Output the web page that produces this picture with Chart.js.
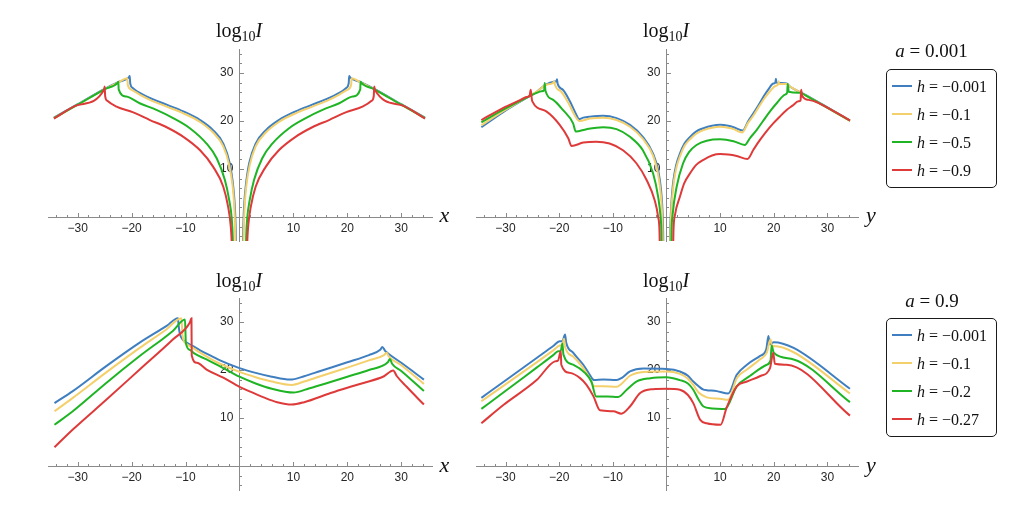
<!doctype html>
<head>
<meta charset="utf-8">
<style>
* { box-sizing: border-box; margin: 0; padding: 0; }
body { width: 1030px; height: 508px; background: #fff; position: relative; overflow: hidden; font-family: 'Liberation Serif', serif; color: #111; }
.panel { position: absolute; }
.title, .var, .atitle, .row { position: absolute; line-height: 1; white-space: nowrap; }
.title { font-size: 20px; width: 100px; text-align: center; }
.title sub { font-size: 0.7em; vertical-align: -0.3em; line-height: 0; }
.var { font-size: 22px; font-style: italic; }
.atitle { font-size: 19px; width: 120px; text-align: center; }
.legend { position: absolute; left: 886px; width: 111px; height: 119px; border: 1.3px solid #1a1a1a; border-radius: 5px; }
.row { left: 30px; font-size: 16px; }
.swatch { position: absolute; left: 4.5px; width: 20px; height: 2px; }
</style>
</head>
<div class="panel" id="p1"><canvas></canvas></div>
<div class="panel" id="p2"><canvas></canvas></div>
<div class="panel" id="p3"><canvas></canvas></div>
<div class="panel" id="p4"><canvas></canvas></div>

<div class="title" style="left:189px;top:20px">log<sub>10</sub><i>I</i></div>
<div class="title" style="left:616px;top:20px">log<sub>10</sub><i>I</i></div>
<div class="title" style="left:189px;top:270px">log<sub>10</sub><i>I</i></div>
<div class="title" style="left:616px;top:270px">log<sub>10</sub><i>I</i></div>
<div class="var" style="left:439.5px;top:204.3px">x</div>
<div class="var" style="left:866px;top:204.3px">y</div>
<div class="var" style="left:439.5px;top:453.6px">x</div>
<div class="var" style="left:866px;top:453.6px">y</div>

<div class="atitle" id="a1" style="left:871.5px;top:40.6px"></div>
<div class="legend" id="l1" style="top:69px"></div>
<div class="atitle" id="a2" style="left:872px;top:291px"></div>
<div class="legend" id="l2" style="top:318px"></div>

<script src="https://cdn.jsdelivr.net/npm/chart.js"></script>
<script>

const colors = ['#3f7fc0', '#f3d06b', '#1fb424', '#de3a3a']
const hTop = ['−0.001', '−0.1', '−0.5', '−0.9']
const hBottom = ['−0.001', '−0.1', '−0.2', '−0.27']
const aValues = ['0.001', '0.9']
const xTickLabels = [-30, -20, -10, 10, 20, 30]
const yTickLabels = [10, 20, 30]

// top left, a = 0.001, against x
const tlBlue = [[-34.4,20.7],[-30,23.5],[-25,26.7],[-22.5,28.1],[-20.5,29.1],[-20.35,29.4],[-20.25,27.8],[-19.8,26.9],[-19,26.2],[-16.6,24.8],[-13.5,23.4],[-10.4,22.0],[-7.3,20.2],[-4.9,18.1],[-3.0,15.3],[-1.8,11.2],[-1.15,6.3],[-0.9,3],[-0.77,0],[-0.65,-5],[-0.6,-9],
  [0,null],
  [0.6,-9],[0.65,-5],[0.77,0],[0.9,3],[1.15,6.3],[1.8,11.2],[3.0,15.3],[4.9,18.1],[7.3,20.2],[10.4,22.0],[13.5,23.4],[16.6,24.8],[19,26.2],[19.8,26.9],[20.25,27.8],[20.35,29.4],[20.5,29.1],[22.5,28.1],[25,26.7],[30,23.5],[34.4,20.7]]
const tlYellow = [[-34.4,20.6],[-30,23.4],[-25,26.6],[-22.5,28.0],[-20.8,28.9],[-20.7,27.5],[-20,26.5],[-18.5,25.5],[-16.6,24.4],[-13.5,23.0],[-10.4,21.6],[-7.3,19.8],[-4.9,17.6],[-3.0,14.7],[-1.9,10.8],[-1.25,6.3],[-1.0,3],[-0.87,0],[-0.75,-5],[-0.7,-9],
  [0,null],
  [0.7,-9],[0.75,-5],[0.87,0],[1.0,3],[1.25,6.3],[1.9,10.8],[3.0,14.7],[4.9,17.6],[7.3,19.8],[10.4,21.6],[13.5,23.0],[16.6,24.4],[18.5,25.5],[20,26.5],[20.7,27.5],[20.8,28.9],[22.5,28.0],[25,26.6],[30,23.4],[34.4,20.6]]
const tlGreen = [[-34.4,20.6],[-30,23.4],[-25,26.6],[-22.55,28.0],[-22.45,28.2],[-22.4,26.6],[-21,25.1],[-18.5,23.7],[-15.4,22.3],[-12.3,20.6],[-9.2,18.5],[-6.1,15.3],[-4.2,12.2],[-2.7,7.7],[-1.9,3.5],[-1.46,0],[-1.25,-4],[-1.15,-9],
  [0,null],
  [1.15,-9],[1.25,-4],[1.46,0],[1.9,3.5],[2.7,7.7],[4.2,12.2],[6.1,15.3],[9.2,18.5],[12.3,20.6],[15.4,22.3],[18.5,23.7],[21,25.1],[22.4,26.6],[22.45,28.2],[22.55,28.0],[25,26.6],[30,23.4],[34.4,20.6]]
const tlRed = [[-34.4,20.5],[-30,23.3],[-25.1,26.5],[-25.0,27.2],[-24.9,25.2],[-24.5,24.2],[-22.8,23.0],[-19.7,21.8],[-16.6,20.2],[-13.5,18.7],[-10.4,16.7],[-7.3,13.9],[-4.9,10.5],[-3.0,6.3],[-2.1,2.1],[-1.6,-2.1],[-1.45,-5],[-1.35,-9],
  [0,null],
  [1.35,-9],[1.45,-5],[1.6,-2.1],[2.1,2.1],[3.0,6.3],[4.9,10.5],[7.3,13.9],[10.4,16.7],[13.5,18.7],[16.6,20.2],[19.7,21.8],[22.8,23.0],[24.5,24.2],[24.9,25.2],[25.0,27.2],[25.1,26.5],[30,23.3],[34.4,20.5]]

// top right, a = 0.001, against y
const trBlue = [[-34.5,18.7],[-30.5,21.8],[-26.7,24.4],[-24.3,26.0],[-22.5,27.6],[-21,28.2],[-20.5,28.3],[-20.4,28.7],[-20.3,27.8],[-19.3,26.5],[-18.0,24.1],[-16.8,21.3],[-16.3,20.4],[-15.5,20.7],[-14.3,20.9],[-11.8,21.1],[-9.3,20.6],[-6.8,19.2],[-4.4,16.7],[-2.5,13.2],[-1.5,9.5],[-1.0,5.5],[-0.75,1.5],[-0.62,-3],[-0.55,-9],
  [0,null],
  [0.62,-9],[0.7,-3],[0.85,1.5],[1.05,5],[1.3,7.7],[1.8,10.8],[2.5,13.2],[3.3,15.2],[4.4,16.7],[5.5,17.8],[6.9,18.5],[8.5,19.0],[10.0,19.2],[11.5,19.0],[12.5,18.7],[14.2,18.0],[15.2,19.9],[16.2,21.6],[17.2,23.4],[18.1,25.1],[19.0,26.6],[19.9,27.8],[20.3,28.0],[20.4,28.8],[20.5,28.0],[21.5,27.9],[22.4,27.8],[23.0,27.2],[26,25.4],[29.3,23.3],[34.2,20.1]]
const trYellow = [[-34.5,19.1],[-30.5,22.0],[-26.7,24.5],[-24.3,26.0],[-22.5,27.5],[-21.2,27.9],[-20.9,28.3],[-20.8,27.6],[-19.6,26.1],[-18.3,23.8],[-17.0,21.0],[-16.2,20.0],[-14.3,20.5],[-11.8,20.7],[-9.3,20.2],[-6.8,18.8],[-4.4,16.3],[-2.5,12.8],[-1.6,9.2],[-1.1,5.2],[-0.85,1.5],[-0.72,-3],[-0.65,-9],
  [0,null],
  [0.65,-9],[0.75,-3],[0.9,1.5],[1.15,5],[1.4,7.5],[1.9,10.5],[2.6,12.9],[3.4,14.9],[4.5,16.3],[5.6,17.4],[6.9,18.1],[8.5,18.6],[10.0,18.8],[11.5,18.6],[12.5,18.3],[14.1,17.6],[15.2,19.6],[16.3,21.3],[17.3,23.1],[18.3,24.8],[19.3,26.2],[20.3,27.3],[20.8,27.6],[20.9,28.3],[21.0,27.7],[22.4,27.7],[23.0,27.2],[26,25.3],[29.3,23.2],[34.2,20.0]]
const trGreen = [[-34.5,19.7],[-30.5,22.3],[-26.7,24.5],[-24.3,25.8],[-23.3,26.2],[-22.8,26.4],[-22.7,27.9],[-22.55,26.3],[-21.1,24.4],[-19.3,22.3],[-17.4,19.5],[-16.9,17.8],[-14.9,18.3],[-11.8,18.7],[-9.3,18.3],[-6.8,16.7],[-4.4,13.9],[-2.5,9.1],[-1.55,4.2],[-1.1,0],[-0.95,-3],[-0.87,-9],
  [0,null],
  [0.87,-9],[0.95,-3],[1.15,0.5],[1.9,6.3],[3.1,11.2],[4.2,13.5],[5.6,15.0],[7.5,15.9],[10.0,16.2],[12.5,15.8],[14.6,15.0],[15.6,16.5],[16.8,18.1],[18.0,20.0],[19.3,22.0],[20.7,23.9],[22.1,25.5],[22.5,25.9],[22.6,27.7],[22.8,26.1],[24.9,25.9],[26,25.3],[29.3,23.2],[34.2,20.1]]
const trRed = [[-34.5,20.2],[-30.5,22.7],[-27.4,24.3],[-26.1,25.0],[-25.5,25.3],[-25.3,26.5],[-25.1,24.6],[-25.0,24.1],[-22.4,22.0],[-19.9,19.2],[-18.3,16.4],[-17.7,14.8],[-15.5,15.5],[-13.1,15.7],[-10.6,15.3],[-8.1,13.9],[-5.6,11.2],[-3.7,7.7],[-2.2,3.5],[-1.55,0],[-1.3,-3],[-1.2,-9],
  [0,null],
  [1.2,-9],[1.3,-3],[1.6,0.5],[2.5,4.2],[3.3,7.0],[4.4,9.1],[5.5,10.8],[6.9,11.9],[8.5,12.8],[10.0,13.1],[11.5,13.0],[13.1,12.7],[15.1,12.1],[16.2,14.0],[17.4,16.0],[18.6,17.8],[19.9,19.5],[21.1,20.9],[22.4,22.3],[23.5,23.2],[24.6,24.1],[25.0,24.3],[25.1,26.5],[25.3,25.2],[26.5,24.4],[27.8,24.0],[29.3,23.2],[34.2,20.1]]

// bottom left, a = 0.9, against x
const blBlue = [[-34.3,13.1],[-30.9,15.6],[-24.7,20.8],[-18.5,25.7],[-13.5,29.2],[-11.4,30.8],[-11.3,29.5],[-11.1,27.8],[-10.5,26.3],[-9.8,25.7],[-8.5,24.9],[-7.3,24.1],[-5,22.8],[-3.6,22.0],[0,20.4],[3,19.4],[6,18.6],[9.4,18.0],[12,18.7],[15,19.8],[20,21.6],[24,23.1],[26.1,24.2],[26.5,24.8],[27.0,24.0],[27.5,23.5],[30,21.5],[34.2,18.0]]
const blYellow = [[-34.3,11.4],[-30.9,14.2],[-24.7,19.5],[-18.5,24.6],[-13.5,28.5],[-10.8,30.8],[-10.65,29.0],[-10.55,27.1],[-9.8,25.4],[-8.5,24.5],[-7.3,23.6],[-5,22.1],[-3.6,21.3],[0,19.6],[3,18.5],[6,17.6],[9.7,16.9],[12,17.6],[15,18.7],[20,20.5],[24,22.0],[26.8,23.1],[27.3,23.6],[27.7,22.8],[30,21.0],[34.2,17.1]]
const blGreen = [[-34.3,8.6],[-30.9,11.4],[-24.7,17.3],[-18.5,22.9],[-12.3,28.2],[-10.1,30.5],[-10.0,27.5],[-9.95,25.7],[-9.2,24.2],[-8.3,23.4],[-6.1,22.2],[-3.0,20.4],[0,18.6],[3,17.2],[6,16.1],[10.0,15.3],[13,16.2],[16,17.2],[20,18.6],[24,20.0],[27.5,21.6],[27.9,22.3],[28.3,21.3],[30,19.8],[34.2,15.6]]
const blRed = [[-34.3,3.9],[-30.9,7.6],[-24.7,13.8],[-18.5,20.1],[-12.3,26.4],[-9.2,29.9],[-8.9,30.8],[-8.85,23.0],[-7.9,21.5],[-6.1,20.1],[-3.0,18.4],[0,16.5],[2,15.5],[4.5,14.3],[7,13.3],[9.7,12.8],[12,13.3],[16.9,15.2],[20,16.3],[23.0,17.3],[26.8,18.7],[28.5,19.9],[29.2,18.7],[31,16.5],[34.2,12.8]]

// bottom right, a = 0.9, against y
const brBlue = [[-34.5,14.2],[-30.4,17.5],[-24.2,22.5],[-21.1,25.0],[-19.9,26.0],[-19.4,26.0],[-18.9,27.4],[-18.7,25.8],[-17.4,23.6],[-15.5,21.1],[-14.3,19.0],[-13.5,17.9],[-11.8,18.0],[-9.3,17.9],[-8.4,18.3],[-6.8,19.7],[-4.3,20.3],[0,20.2],[2.5,19.7],[4,18.8],[5.0,17.6],[6,16.6],[6.9,15.9],[7.5,15.8],[9.4,15.6],[11.5,15.1],[13.1,19.0],[15.0,21.1],[17.4,22.9],[18.6,24.3],[19.0,27.1],[19.3,25.3],[20.0,25.8],[23.7,24.6],[34.2,16.1]]
const brYellow = [[-34.5,13.5],[-30.4,16.7],[-24.2,21.6],[-21.1,24.1],[-19.9,25.1],[-19.4,25.3],[-19.1,26.5],[-18.9,24.8],[-17.4,22.8],[-15.5,20.4],[-14.3,18.3],[-13.5,16.6],[-11.8,16.6],[-9.3,16.5],[-8.4,17.1],[-6.8,18.8],[-4.3,19.6],[0,19.7],[2.5,19.2],[4,18.2],[5.0,16.9],[6,15.3],[7.5,14.3],[10.0,14.0],[11.5,13.8],[13.1,18.3],[15,20.1],[17.4,22.2],[18.7,23.6],[19.4,26.4],[19.7,24.8],[20.0,25.0],[23.7,23.7],[34.2,15.1]]
const brGreen = [[-34.5,11.9],[-30.4,15.3],[-24.2,20.5],[-21.1,23.1],[-20.2,23.9],[-19.7,24.0],[-19.4,25.5],[-19.2,23.2],[-17.4,21.1],[-15.2,19.4],[-14.0,17.6],[-13.1,14.5],[-11,14.5],[-9.0,14.4],[-7.4,15.9],[-5.6,17.6],[-3,18.3],[0,18.5],[2.5,17.9],[4,17.2],[5.0,15.9],[5.9,14.0],[6.9,12.4],[8.5,12.0],[10.3,11.9],[10.9,11.9],[13.1,16.6],[15.6,18.8],[18.7,21.1],[19.4,22.0],[19.6,25.1],[20.0,23.6],[23.7,22.2],[34.2,13.3]]
const brRed = [[-34.5,8.9],[-30.4,12.7],[-24.2,17.9],[-20.8,21.8],[-20.2,22.0],[-19.7,23.9],[-19.6,21.1],[-18.0,19.4],[-16.1,18.3],[-14.9,16.9],[-13.6,14.5],[-12.4,11.6],[-9.9,11.4],[-8.4,10.9],[-6.8,12.4],[-4.9,15.2],[-2.5,16.0],[0,16.1],[2.5,15.9],[4,14.8],[5.0,13.1],[6.3,9.6],[7.5,8.9],[10.1,8.6],[11.2,12.1],[13.1,16.6],[15.0,17.6],[17.4,18.7],[19.3,20.4],[19.9,23.6],[20.2,21.3],[22.4,21.1],[34.2,10.5]]

const axisColor = '#8a8a8a'
const tickColor = '#262626'
const pad = 15

// mathematica style tick marks, drawn on the positive side of each axis
const tickMarks = {
    id: 'tickMarks',
    beforeDatasetsDraw(chart) {
        let {ctx, scales: {x, y}} = chart
        let x0 = Math.round(x.getPixelForValue(0)) + 0.5
        let y0 = Math.round(y.getPixelForValue(0)) + 0.5
        ctx.save()
        ctx.strokeStyle = axisColor
        ctx.lineWidth = 1
        ctx.beginPath()
        for (let v = -34; v <= 34; v += 2) {
            if (v === 0) continue
            let len = v % 10 === 0 ? 4.5 : 2.5
            let px = Math.round(x.getPixelForValue(v)) + 0.5
            ctx.moveTo(px, y0)
            ctx.lineTo(px, y0 - len)
        }
        for (let v = -4; v <= 34; v += 2) {
            if (v === 0) continue
            let len = v % 10 === 0 ? 4.5 : 2.5
            let py = Math.round(y.getPixelForValue(v)) + 0.5
            ctx.moveTo(x0, py)
            ctx.lineTo(x0 + len, py)
        }
        ctx.stroke()
        ctx.restore()
    },
}

let fmt = v => v < 0 ? '\u2212' + (-v) : String(v)

function makePanel(id, area, series, names) {
    let [left, top, width, height] = area
    let div = document.getElementById(id)
    div.style.left = (left - pad) + 'px'
    div.style.top = (top - pad) + 'px'
    div.style.width = (width + 2 * pad) + 'px'
    div.style.height = (height + 2 * pad) + 'px'

    return new Chart(div.querySelector('canvas'), {
        type: 'line',
        data: {
            datasets: series.map((s, i) => ({
                label: 'h = ' + names[i],
                data: s.map(p => ({x: p[0], y: p[1]})),
                borderColor: colors[i],
                borderWidth: 2,
                pointRadius: 0,
                cubicInterpolationMode: 'monotone',
                fill: false,
                order: 4 - i,
            })),
        },
        options: {
            animation: false,
            responsive: true,
            maintainAspectRatio: false,
            events: [],
            layout: { padding: pad },
            scales: {
                x: {
                    type: 'linear',
                    min: -35.5,
                    max: 35.7,
                    position: { y: 0 },
                    grid: { display: false, drawTicks: false, tickLength: 0 },
                    border: { color: axisColor, width: 1 },
                    afterBuildTicks: s => { s.ticks = xTickLabels.map(v => ({value: v})) },
                    ticks: {
                        color: tickColor,
                        font: { family: 'Liberation Sans', size: 12 },
                        padding: 4,
                        maxRotation: 0,
                        autoSkip: false,
                        callback: fmt,
                    },
                },
                y: {
                    type: 'linear',
                    min: -5,
                    max: 35,
                    position: { x: 0 },
                    grid: { display: false, drawTicks: false, tickLength: 0 },
                    border: { color: axisColor, width: 1 },
                    afterBuildTicks: s => { s.ticks = yTickLabels.map(v => ({value: v})) },
                    ticks: {
                        color: tickColor,
                        font: { family: 'Liberation Sans', size: 12 },
                        autoSkip: false,
                        // the label sits flush on a centred axis, so keep an en space after it
                        callback: v => fmt(v) + '\u2002',
                    },
                },
            },
            plugins: {
                legend: { display: false },
                tooltip: { enabled: false },
            },
        },
        plugins: [tickMarks],
    })
}

makePanel('p1', [48, 49, 384, 192], [tlBlue, tlYellow, tlGreen, tlRed], hTop)
makePanel('p2', [476, 49, 382, 192], [trBlue, trYellow, trGreen, trRed], hTop)
makePanel('p3', [48, 298, 384, 192], [blBlue, blYellow, blGreen, blRed], hBottom)
makePanel('p4', [476, 298, 382, 192], [brBlue, brYellow, brGreen, brRed], hBottom)

// legends
function fillLegend(titleId, boxId, a, names) {
    document.getElementById(titleId).innerHTML = '<i>a</i> = ' + a
    let box = document.getElementById(boxId)
    let rows = [16.4, 44.4, 72.4, 100.2]
    names.forEach((n, i) => {
        let sw = document.createElement('div')
        sw.className = 'swatch'
        sw.style.top = (rows[i] - 1) + 'px'
        sw.style.background = colors[i]
        box.appendChild(sw)
        let row = document.createElement('div')
        row.className = 'row'
        row.style.top = (rows[i] - 7.6) + 'px'
        row.innerHTML = '<i>h</i> = ' + n
        box.appendChild(row)
    })
}
fillLegend('a1', 'l1', aValues[0], hTop)
fillLegend('a2', 'l2', aValues[1], hBottom)

</script>
